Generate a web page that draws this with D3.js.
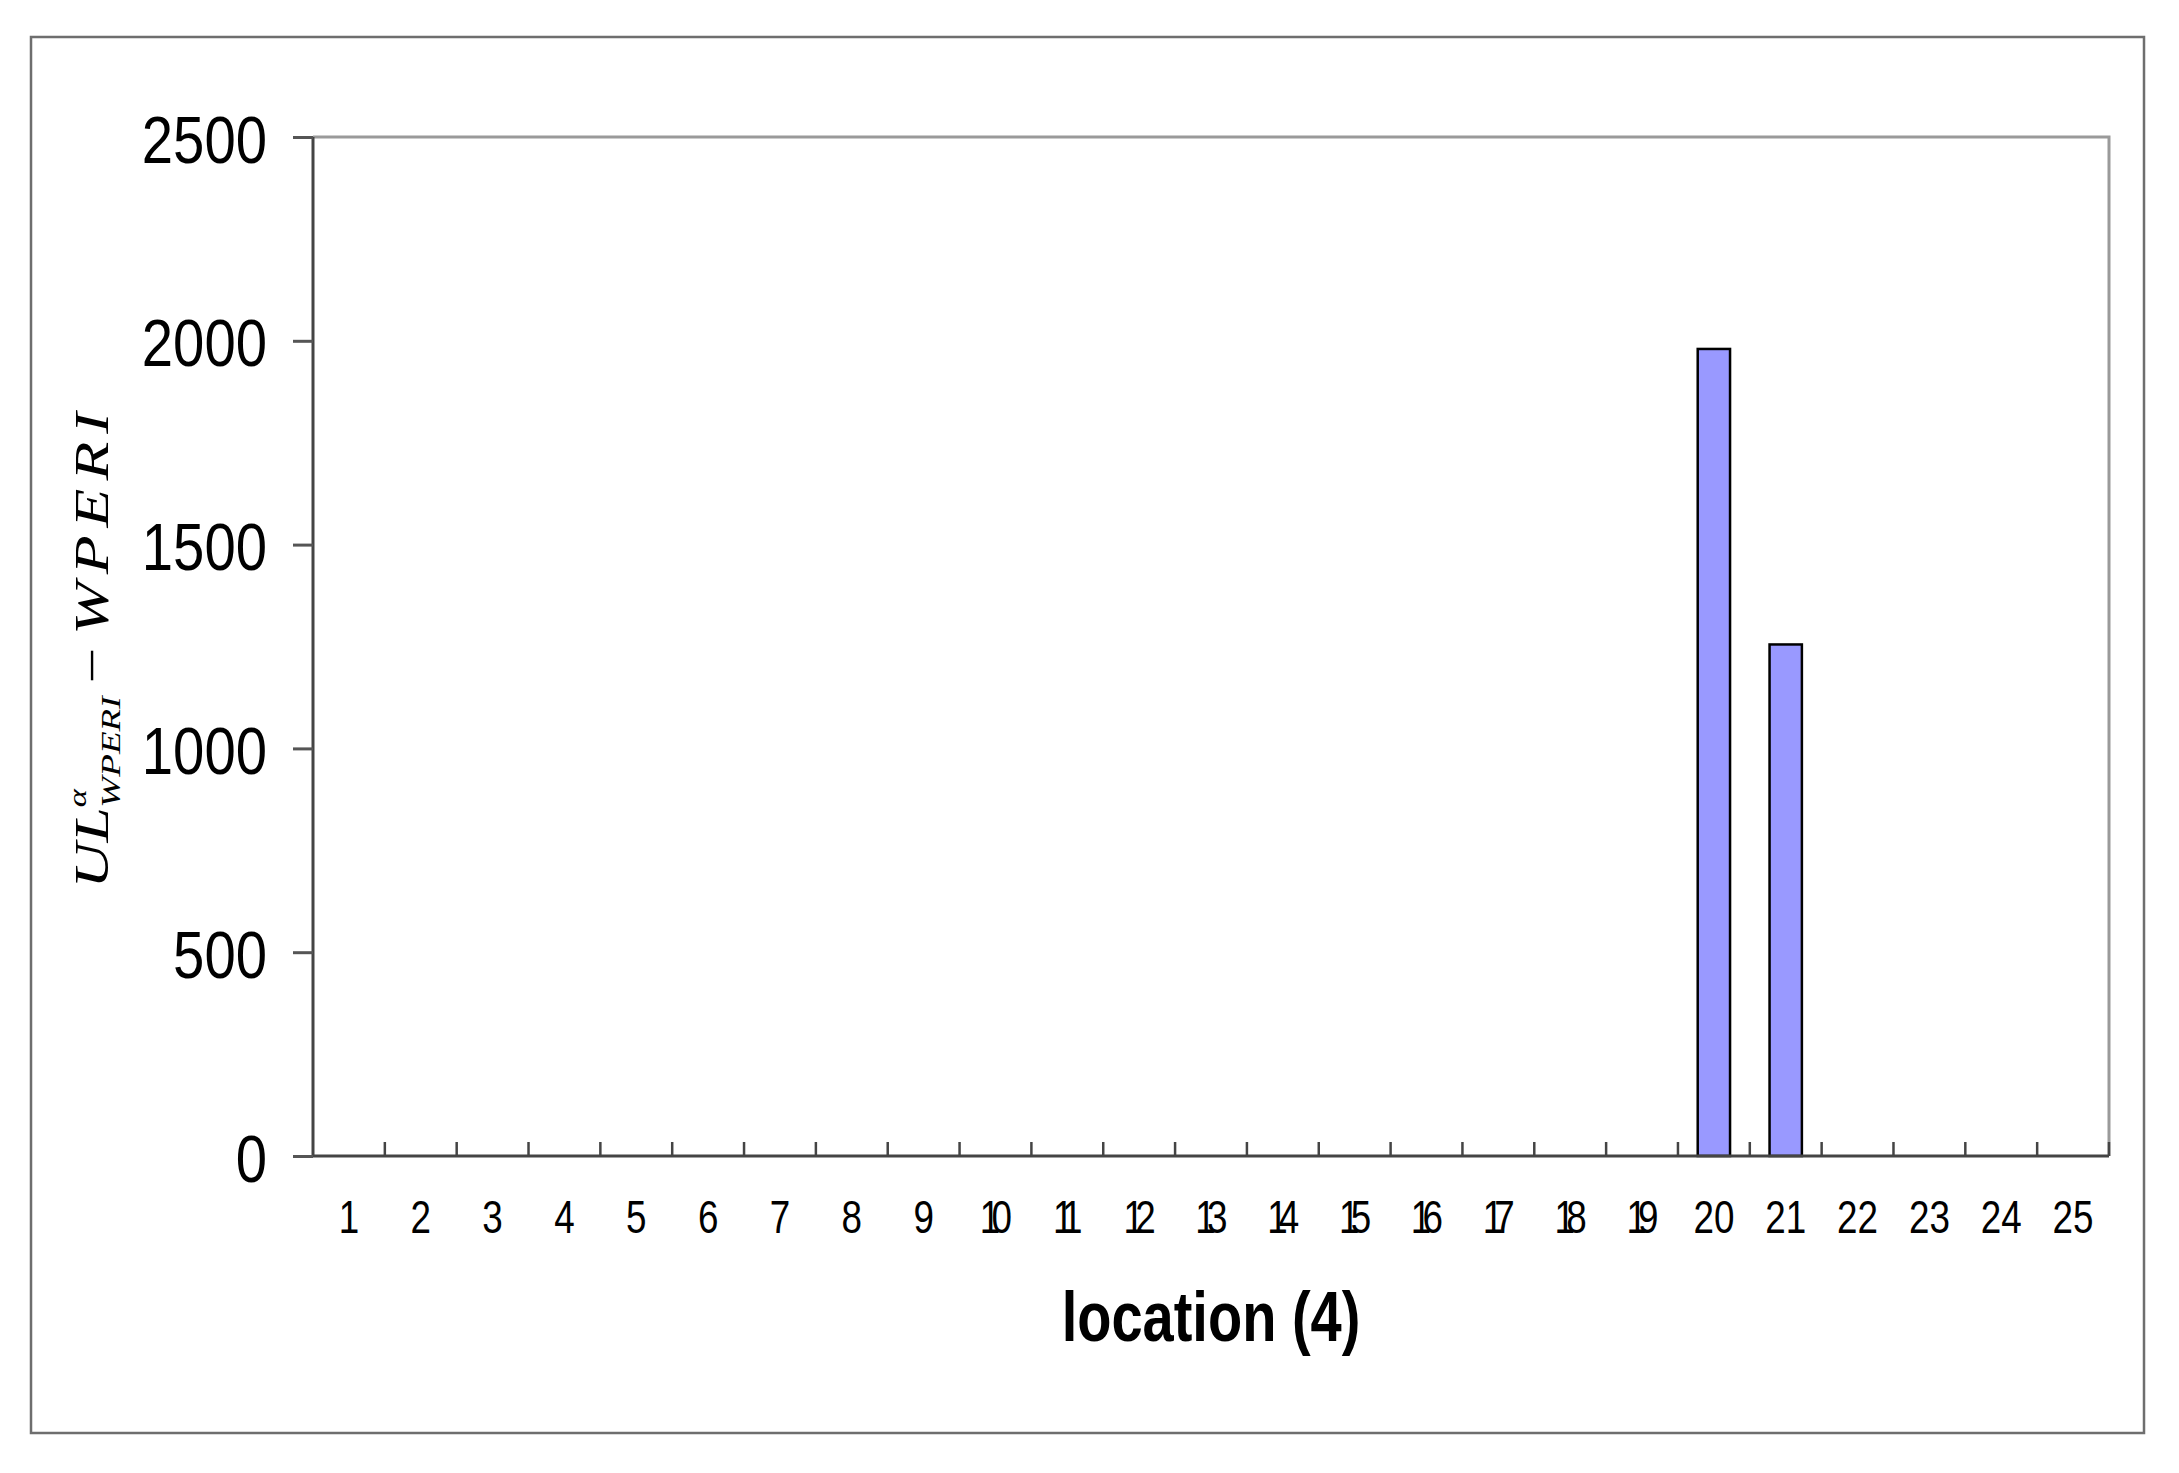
<!DOCTYPE html>
<html>
<head>
<meta charset="utf-8">
<script src="https://cdn.jsdelivr.net/npm/d3@7"></script>
<style>
  html, body { margin: 0; padding: 0; background: #fff; }
  svg { display: block; }
  text { font-family: "Liberation Sans", Arial, sans-serif; fill: #000; }
</style>
</head>
<body>
<svg id="chart" width="2179" height="1473"></svg>
<script>
// ---- data ----
const categories = ["1","2","3","4","5","6","7","8","9","10","11","12","13","14","15","16","17","18","19","20","21","22","23","24","25"];
const values = [0,0,0,0,0,0,0,0,0,0,0,0,0,0,0,0,0,0,0,1980,1255,0,0,0,0];
const yTicks = [0, 500, 1000, 1500, 2000, 2500];
const xTitle = "location (4)";

// ---- layout ----
const L = 313, R = 2109, T = 137, B = 1156;
const svg = d3.select("#chart");

// outer frame
svg.append("rect").attr("x", 31).attr("y", 37).attr("width", 2144 - 31).attr("height", 1433 - 37)
  .attr("fill", "#fff").attr("stroke", "#6e6e6e").attr("stroke-width", 2.5);

const x = d3.scaleBand().domain(categories).range([L, R]).paddingInner(0.55).paddingOuter(0.275);
const xb = d3.scaleLinear().domain([0, categories.length]).range([L, R]);
const y = d3.scaleLinear().domain([0, 2500]).range([B, T]);

// plot border top & right (light gray)
svg.append("path").attr("d", `M${L},${T}H${R}V${B}`).attr("fill", "none")
  .attr("stroke", "#9a9a9a").attr("stroke-width", 3);

// bars
svg.append("g").selectAll("rect").data(values.map((v, i) => ({c: categories[i], v})).filter(d => d.v > 0))
  .join("rect")
  .attr("x", d => x(d.c)).attr("width", x.bandwidth())
  .attr("y", d => y(d.v)).attr("height", d => y(0) - y(d.v))
  .attr("fill", "#9999ff").attr("stroke", "#000").attr("stroke-width", 2.5);

// y axis
const yAxis = svg.append("g").attr("transform", `translate(${L},0)`)
  .call(d3.axisLeft(y).tickValues(yTicks).tickSize(20).tickFormat(d3.format("d")));
yAxis.select(".domain").attr("stroke", "#444").attr("stroke-width", 3).attr("d", `M0,${T}V${B}`);
yAxis.selectAll(".tick line").attr("stroke", "#555").attr("stroke-width", 3);
yAxis.selectAll(".tick text")
  .attr("x", null).attr("dy", null)
  .attr("transform", "translate(-46,25) scale(0.84,1)")
  .attr("font-size", 67).attr("text-anchor", "end").attr("fill", "#000");

// x axis line
svg.append("line").attr("x1", L).attr("x2", R).attr("y1", B).attr("y2", B)
  .attr("stroke", "#444").attr("stroke-width", 3);
// x ticks at band boundaries (inward)
svg.append("g").selectAll("line").data(d3.range(1, categories.length + 1))
  .join("line")
  .attr("x1", d => xb(d)).attr("x2", d => xb(d))
  .attr("y1", B).attr("y2", B - 14)
  .attr("stroke", "#444").attr("stroke-width", 2.5);

// x tick labels
const tight = d => d.length === 2 && d[0] === "1";
svg.append("g").selectAll("text").data(categories)
  .join("text")
  .attr("transform", d => `translate(${x(d) + x.bandwidth() / 2},1233) scale(0.8,1)`)
  .attr("text-anchor", "middle").attr("font-size", 46)
  .attr("letter-spacing", d => tight(d) ? "-11px" : "0px")
  .attr("dx", d => tight(d) ? -5 : 0)
  .text(d => d);

// x title
svg.append("text")
  .attr("transform", `translate(${(L + R) / 2},1341) scale(0.8,1)`)
  .attr("text-anchor", "middle").attr("font-size", 70).attr("font-weight", "bold")
  .text(xTitle);

// y title (math expression)
const yt = svg.append("g").attr("transform", `translate(108,${(T + B) / 2}) rotate(-90)`);
const tt = yt.append("text")
  .style("font-family", "'Liberation Serif', 'DejaVu Serif', serif")
  .style("font-style", "italic").attr("font-size", 48).attr("text-anchor", "start");
tt.append("tspan").text("UL");
tt.append("tspan").attr("font-size", 26).attr("dy", -22).text("α");
tt.append("tspan").attr("font-size", 28).attr("dy", 34).attr("dx", -14).text("WPERI");
tt.append("tspan").attr("font-size", 48).attr("dy", -12).style("font-style", "normal").text("\u2009−\u2009");
tt.append("tspan").attr("font-size", 48).attr("letter-spacing", "6px").text("WPERI");
// fit length to reference
const bb = tt.node().getBBox();
const targetLen = 484;
const s = targetLen / bb.width;
tt.attr("transform", `scale(${s},1) translate(${-bb.x - bb.width / 2},0)`);
</script>
</body>
</html>
